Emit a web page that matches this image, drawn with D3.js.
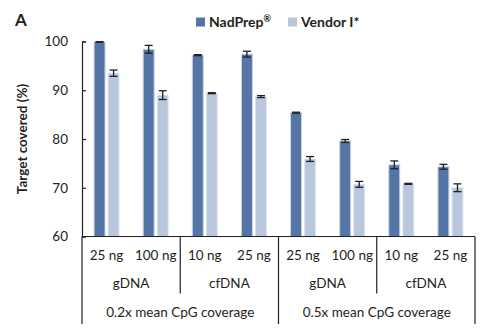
<!DOCTYPE html>
<html>
<head>
<meta charset="utf-8">
<script src="https://cdn.jsdelivr.net/npm/d3@7"></script>
<style>
  body { margin: 0; background: #fff; }
  svg text { font-family: Lato, "Noto Sans", sans-serif; fill: #231f20; }
</style>
</head>
<body>
<div id="chart"></div>
<script>
// data
const samples = ["25 ng", "100 ng", "10 ng", "25 ng", "25 ng", "100 ng", "10 ng", "25 ng"];
const inputs = ["gDNA", "cfDNA", "gDNA", "cfDNA"];
const coverages = ["0.2x mean CpG coverage", "0.5x mean CpG coverage"];
const series = ["NadPrep", "Vendor I*"];
const seriesSup = ["®", ""];
const nadprep = [99.9, 98.4, 97.2, 97.4, 85.4, 79.6, 74.7, 74.3];
const nadprepErr = [0.05, 0.8, 0.1, 0.6, 0.1, 0.3, 0.8, 0.5];
const vendor = [93.5, 89.0, 89.4, 88.7, 75.9, 70.7, 70.8, 70.0];
const vendorErr = [0.65, 0.9, 0.1, 0.2, 0.5, 0.6, 0.1, 0.8];
const yTicks = [60, 70, 80, 90, 100];
const colors = ["#5475a5", "#b8c7dc"];

const W = 490, H = 330;
const margin = {top: 41.5, right: 15, bottom: 93.5, left: 82};
const w = W - margin.left - margin.right, h = H - margin.top - margin.bottom;

const svg = d3.select("#chart").append("svg").attr("width", W).attr("height", H);
const g = svg.append("g").attr("transform", `translate(${margin.left},${margin.top})`);

const x0 = d3.scaleBand().domain(d3.range(samples.length)).range([0, w]);
const x1 = d3.scaleBand().domain(series).range([x0.bandwidth() / 2 - 12.5, x0.bandwidth() / 2 + 12.5]).paddingInner(0.22);
const y = d3.scaleLinear().domain([60, 100]).range([h, 0]);

const vals = [nadprep, vendor], errs = [nadprepErr, vendorErr];

// bars
series.forEach((s, si) => {
  g.selectAll(".bar" + si).data(vals[si]).join("rect")
    .attr("x", (d, i) => x0(i) + x1(s))
    .attr("y", d => y(d))
    .attr("width", x1.bandwidth())
    .attr("height", d => y(60) - y(d))
    .attr("fill", colors[si])
    .attr("stroke", si === 0 ? "#c9d4e4" : "#dde5ef")
    .attr("stroke-width", 1);
});

// error bars
series.forEach((s, si) => {
  const eb = g.selectAll(".err" + si).data(vals[si]).join("g")
    .attr("transform", (d, i) => `translate(${x0(i) + x1(s) + x1.bandwidth() / 2},0)`)
    .attr("stroke", "#231f20").attr("stroke-width", 1.3);
  eb.append("line").attr("y1", (d, i) => y(d + errs[si][i])).attr("y2", (d, i) => y(d - errs[si][i]));
  eb.append("line").attr("x1", -4).attr("x2", 4).attr("y1", (d, i) => y(d + errs[si][i])).attr("y2", (d, i) => y(d + errs[si][i]));
  eb.append("line").attr("x1", -4).attr("x2", 4).attr("y1", (d, i) => y(d - errs[si][i])).attr("y2", (d, i) => y(d - errs[si][i]));
});

// y axis
const yAxis = g.append("g").call(d3.axisLeft(y).tickValues(yTicks).tickSize(-4).tickPadding(14));
yAxis.select(".domain").attr("stroke", "#231f20").attr("stroke-width", 1.2);
yAxis.selectAll(".tick line").attr("stroke", "#231f20").attr("stroke-width", 1.2);
yAxis.selectAll(".tick text").attr("font-size", 13.5).attr("fill", "#333");

// x axis lines
const bottom = H - 6 - margin.top;
g.append("line").attr("x1", 0).attr("x2", w).attr("y1", h).attr("y2", h)
  .attr("stroke", "#231f20").attr("stroke-width", 1.2);
const pairW = x0.step() * 2;
d3.range(5).forEach(k => {
  g.append("line").attr("x1", k * pairW).attr("x2", k * pairW)
    .attr("y1", h).attr("y2", k % 2 === 0 ? bottom : h + 57)
    .attr("stroke", "#231f20").attr("stroke-width", 1.2);
});

g.selectAll(".sample").data(samples).join("text")
  .attr("x", (d, i) => x0(i) + x0.bandwidth() / 2).attr("y", h + 23)
  .attr("text-anchor", "middle").attr("font-size", 13.5).attr("fill", "#333").text(d => d);
g.selectAll(".input").data(inputs).join("text")
  .attr("x", (d, i) => (i + 0.5) * pairW).attr("y", h + 51)
  .attr("text-anchor", "middle").attr("font-size", 13.5).attr("fill", "#333").text(d => d);
g.selectAll(".cov").data(coverages).join("text")
  .attr("x", (d, i) => (i + 0.5) * pairW * 2).attr("y", h + 80)
  .attr("text-anchor", "middle").attr("font-size", 13.5).attr("fill", "#333").text(d => d);

// y label
svg.append("text").attr("transform", `translate(27,${margin.top + h / 2}) rotate(-90)`)
  .attr("text-anchor", "middle").attr("font-size", 13.5).attr("font-weight", "bold").text("Target covered (%)");

// panel letter
svg.append("text").attr("x", 15).attr("y", 26).attr("font-size", 17).attr("font-weight", "bold").text("A");

// legend
const legX = [196, 288];
series.forEach((s, si) => {
  svg.append("rect").attr("x", legX[si]).attr("y", 17.5).attr("width", 9).attr("height", 9).attr("fill", colors[si]);
  const t = svg.append("text").attr("x", legX[si] + 13).attr("y", 26.5).attr("font-size", 14)
    .attr("font-weight", "bold").text(s);
  if (seriesSup[si]) t.append("tspan").attr("font-size", 9).attr("dy", -5).text(seriesSup[si]);
});
</script>
</body>
</html>
